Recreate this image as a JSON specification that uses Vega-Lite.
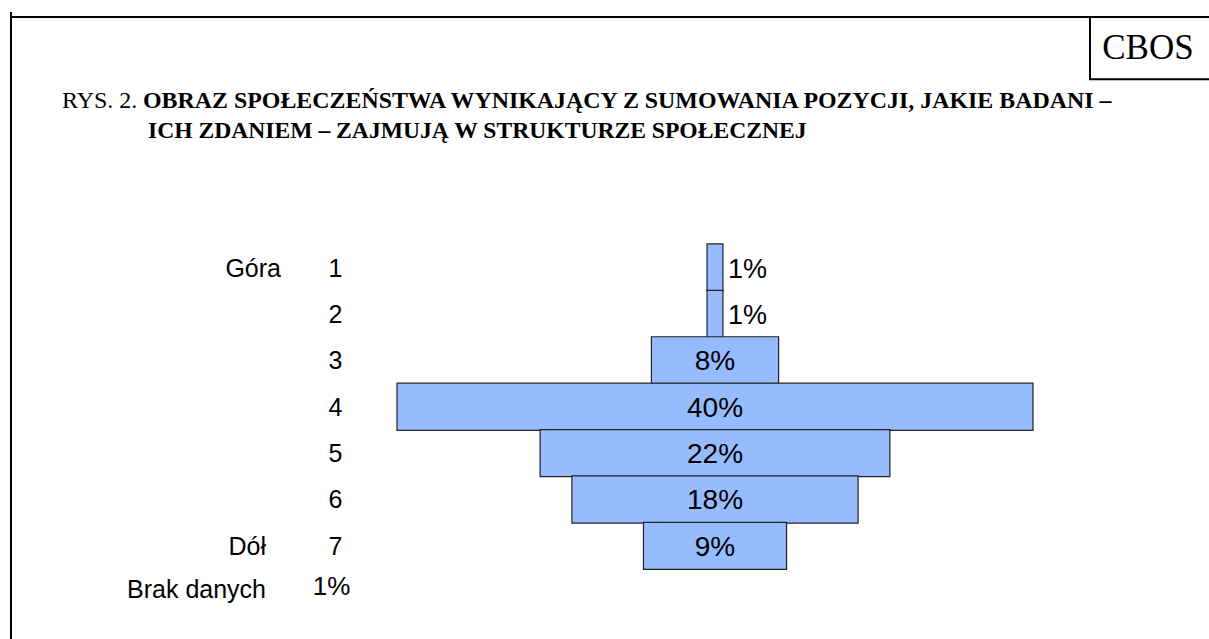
{
  "$schema": "https://vega.github.io/schema/vega-lite/v6.json",
  "autosize": "none",
  "width": 1198,
  "height": 627,
  "padding": {"left": 11, "top": 12, "right": 0, "bottom": 0},
  "background": "white",
  "config": {"view": {"stroke": null}},
  "datasets": {
    "pozycje": [
      {"poz": 1, "opis": "Góra", "odsetek": 0.01},
      {"poz": 2, "opis": "", "odsetek": 0.01},
      {"poz": 3, "opis": "", "odsetek": 0.08},
      {"poz": 4, "opis": "", "odsetek": 0.40},
      {"poz": 5, "opis": "", "odsetek": 0.22},
      {"poz": 6, "opis": "", "odsetek": 0.18},
      {"poz": 7, "opis": "Dół", "odsetek": 0.09}
    ],
    "brak": [
      {"opis": "Brak danych", "odsetek": 0.01}
    ]
  },
  "data": {"name": "pozycje"},
  "encoding": {
    "x": {"type": "quantitative", "scale": {"domain": [-0.242767, 0.510692], "nice": false, "zero": false}, "axis": null},
    "y": {"type": "quantitative", "scale": {"domain": [8.8998, -4.401], "nice": false, "zero": false}, "axis": null}
  },
  "layer": [
    {
      "mark": {"type": "bar", "orient": "horizontal", "height": 47.14, "fill": "#96BBFF", "stroke": "#222222", "strokeWidth": 1.2},
      "encoding": {
        "x": {"field": "odsetek", "type": "quantitative", "stack": "center"},
        "y": {"field": "poz", "type": "quantitative"}
      }
    },
    {
      "transform": [{"filter": "datum.odsetek >= 0.05"}],
      "mark": {"type": "text", "font": "Liberation Sans", "fontSize": 28, "align": "center", "baseline": "middle", "dy": 2, "color": "black"},
      "encoding": {
        "x": {"datum": 0.2},
        "y": {"field": "poz", "type": "quantitative"},
        "text": {"field": "odsetek", "type": "quantitative", "format": ".0%"}
      }
    },
    {
      "mark": {"type": "text", "font": "Liberation Sans", "fontSize": 27, "align": "left", "baseline": "middle", "dx": 5, "dy": 2, "color": "black"},
      "encoding": {
        "x": {"field": "odsetek", "type": "quantitative", "stack": "center"},
        "y": {"field": "poz", "type": "quantitative"},
        "text": {"condition": {"test": "datum.odsetek < 0.05", "field": "odsetek", "type": "quantitative", "format": ".0%"}, "value": ""}
      }
    },
    {
      "mark": {"type": "text", "font": "Liberation Sans", "fontSize": 25, "align": "center", "baseline": "middle", "dy": 1, "color": "black"},
      "encoding": {
        "x": {"datum": -0.03868},
        "y": {"field": "poz", "type": "quantitative"},
        "text": {"field": "poz", "type": "nominal"}
      }
    },
    {
      "transform": [{"filter": "datum.poz == 1"}],
      "mark": {"type": "text", "font": "Liberation Sans", "fontSize": 25, "align": "right", "baseline": "middle", "dy": 1, "color": "black"},
      "encoding": {
        "x": {"datum": -0.07296},
        "y": {"field": "poz", "type": "quantitative"},
        "text": {"field": "opis", "type": "nominal"}
      }
    },
    {
      "transform": [{"filter": "datum.poz == 7"}],
      "mark": {"type": "text", "font": "Liberation Sans", "fontSize": 25, "align": "right", "baseline": "middle", "dy": 1, "color": "black"},
      "encoding": {
        "x": {"datum": -0.08239},
        "y": {"field": "poz", "type": "quantitative"},
        "text": {"field": "opis", "type": "nominal"}
      }
    },
    {
      "data": {"name": "brak"},
      "mark": {"type": "text", "font": "Liberation Sans", "fontSize": 25, "align": "right", "baseline": "middle", "color": "black"},
      "encoding": {
        "x": {"datum": -0.08239},
        "y": {"datum": 7.95},
        "text": {"field": "opis", "type": "nominal"}
      }
    },
    {
      "data": {"name": "brak"},
      "mark": {"type": "text", "font": "Liberation Sans", "fontSize": 26, "align": "center", "baseline": "middle", "color": "black"},
      "encoding": {
        "x": {"datum": -0.04119},
        "y": {"datum": 7.89},
        "text": {"field": "odsetek", "type": "quantitative", "format": ".0%"}
      }
    },
    {
      "data": {"values": [{}]},
      "mark": {"type": "text", "text": "RYS. 2.", "font": "Liberation Serif", "fontSize": 24, "align": "left", "baseline": "middle", "color": "black"},
      "encoding": {"x": {"datum": -0.21069}, "y": {"datum": -2.598}}
    },
    {
      "data": {"values": [{}]},
      "mark": {"type": "text", "text": "OBRAZ SPOŁECZEŃSTWA WYNIKAJĄCY Z SUMOWANIA POZYCJI, JAKIE BADANI –", "font": "Liberation Serif", "fontWeight": "bold", "fontSize": 23.9, "align": "left", "baseline": "middle", "color": "black"},
      "encoding": {"x": {"datum": -0.15975}, "y": {"datum": -2.598}}
    },
    {
      "data": {"values": [{}]},
      "mark": {"type": "text", "text": "ICH ZDANIEM – ZAJMUJĄ W STRUKTURZE SPOŁECZNEJ", "font": "Liberation Serif", "fontWeight": "bold", "fontSize": 23.6, "align": "left", "baseline": "middle", "color": "black"},
      "encoding": {"x": {"datum": -0.1566}, "y": {"datum": -1.94}}
    },
    {
      "data": {"values": [{}]},
      "mark": {"type": "rect", "fill": "white", "stroke": "black", "strokeWidth": 2},
      "encoding": {"x": {"datum": 0.435849}, "x2": {"datum": 0.53}, "y": {"datum": -4.401}, "y2": {"datum": -3.06}}
    },
    {
      "data": {"values": [{}]},
      "mark": {"type": "rule", "stroke": "black", "strokeWidth": 2},
      "encoding": {"x": {"datum": -0.242767}}
    },
    {
      "data": {"values": [{}]},
      "mark": {"type": "rule", "stroke": "black", "strokeWidth": 2},
      "encoding": {"y": {"datum": -4.401}}
    },
    {
      "data": {"values": [{}]},
      "mark": {"type": "text", "text": "CBOS", "font": "Liberation Serif", "fontSize": 35, "align": "center", "baseline": "middle", "color": "black"},
      "encoding": {"x": {"datum": 0.4723}, "y": {"datum": -3.7434}}
    }
  ]
}
